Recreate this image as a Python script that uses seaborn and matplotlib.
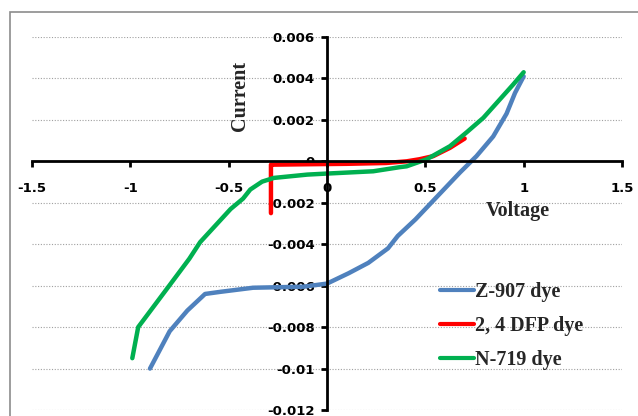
import matplotlib
matplotlib.use("Agg")
import matplotlib.pyplot as plt
import seaborn as sns
import pandas as pd
from matplotlib.patches import Rectangle

# ---- data ----
z907_v = [-0.90, -0.85, -0.80, -0.71, -0.62, -0.544, -0.376, -0.12, 0.0, 0.066, 0.11, 0.21,
          0.31, 0.36, 0.45, 0.50, 0.55, 0.58, 0.676, 0.76, 0.845, 0.913, 0.956, 1.0]
z907_i = [-0.0100, -0.0091, -0.0082, -0.0072, -0.0064, -0.0063, -0.0061, -0.00605, -0.0059,
          -0.0056, -0.0054, -0.0049, -0.0042, -0.0036, -0.0028, -0.0023, -0.0018, -0.0015,
          -0.00054, 0.00025, 0.0012, 0.0023, 0.0033, 0.0041]

dfp_v = [-0.285, -0.285, -0.27, -0.10, 0.10, 0.30, 0.405, 0.47, 0.54, 0.625, 0.70]
dfp_i = [-0.0025, -0.00016, -0.00016, -0.00014, -0.00012, -0.00008, 0.0, 0.0001, 0.00025,
         0.00065, 0.0011]

n719_v = [-0.99, -0.96, -0.81, -0.70, -0.645, -0.49, -0.427, -0.39, -0.33, -0.27, -0.10, 0.0,
          0.235, 0.371, 0.405, 0.507, 0.625, 0.71, 0.795, 0.88, 0.946, 1.0]
n719_i = [-0.0095, -0.0080, -0.0061, -0.0047, -0.0039, -0.0023, -0.0018, -0.00136, -0.00098,
          -0.0008, -0.00064, -0.00059, -0.00048, -0.00028, -0.00024, 0.0001, 0.00073, 0.0014,
          0.0021, 0.0030, 0.0037, 0.0043]

labels = ["Z-907 dye", "2, 4 DFP dye", "N-719 dye"]
colors = ["#4F81BD", "#FF0000", "#00B050"]

x_ticks = [-1.5, -1, -0.5, 0, 0.5, 1, 1.5]
x_tick_labels = ["-1.5", "-1", "-0.5", "0", "0.5", "1", "1.5"]
y_ticks = [-0.012, -0.01, -0.008, -0.006, -0.004, -0.002, 0, 0.002, 0.004, 0.006]
y_tick_labels = ["-0.012", "-0.01", "-0.008", "-0.006", "-0.004", "-0.002", "0",
                 "0.002", "0.004", "0.006"]

frames = []
for lab, v, i in zip(labels, [z907_v, dfp_v, n719_v], [z907_i, dfp_i, n719_i]):
    frames.append(pd.DataFrame({"Voltage": v, "Current": i, "dye": lab}))
df = pd.concat(frames, ignore_index=True)

sns.set_theme(style="white")
plt.rcParams["font.family"] = ["DejaVu Sans"]
plt.rcParams["font.weight"] = "bold"

fig = plt.figure(figsize=(6.38, 4.16), dpi=100)
ax = fig.add_axes([32 / 638, 6 / 416, 590 / 638, 373 / 416])

# outer chart border
fig.patches.append(Rectangle((9.5 / 638, -0.05), 1.2, (416 - 12) / 416 + 0.05,
                             transform=fig.transFigure, fill=False,
                             edgecolor="#8c8c8c", linewidth=1.2, zorder=0))

for y in y_ticks:
    ax.axhline(y, color="#a0a0a0", linestyle=(0, (1, 1.5)), linewidth=0.8, zorder=0)

sns.lineplot(data=df, x="Voltage", y="Current", hue="dye", hue_order=labels,
             palette=colors, sort=False, estimator=None, units="dye", linewidth=3.2,
             ax=ax, legend=True)

for s in ["top", "right"]:
    ax.spines[s].set_visible(False)
ax.spines["left"].set_position(("data", 0))
ax.spines["bottom"].set_position(("data", 0))
for s in ["left", "bottom"]:
    ax.spines[s].set_color("black")
    ax.spines[s].set_linewidth(2.0)

ax.set_xlim(-1.5, 1.5)
ax.set_ylim(-0.012, 0.006)
ax.set_xticks(x_ticks)
ax.set_xticklabels(x_tick_labels, fontsize=9.5, fontweight="bold")
ax.set_yticks(y_ticks)
ax.set_yticklabels(y_tick_labels, fontsize=9.5, fontweight="bold")

ax.tick_params(axis="both", direction="out", length=4, width=2, color="black",
               bottom=True, left=True, labelcolor="black", labelsize=9.5)
ax.tick_params(axis="x", pad=11)
ax.tick_params(axis="y", pad=5)
for t in ax.get_xticklabels() + ax.get_yticklabels():
    t.set_fontweight("bold")
ax.set_facecolor("white")

ax.set_xlabel("Voltage", fontsize=14.5, fontweight="bold", family="Liberation Serif")
ax.set_ylabel("Current", fontsize=14.5, fontweight="bold", family="Liberation Serif")
ax.xaxis.set_label_coords((518 - 32) / 590, (410 - 201) / 373)
ax.yaxis.set_label_coords((250 - 32) / 590, (410 - 96) / 373)

leg = ax.legend(loc="upper left", bbox_to_anchor=((440 - 32) / 590, (410 - 282) / 373),
                frameon=False,
                prop={"family": "Liberation Serif", "weight": "bold", "size": 14.5},
                handlelength=1.7, handletextpad=0.05, labelspacing=0.7, borderpad=0,
                borderaxespad=0)
for line in leg.get_lines():
    line.set_linewidth(3)

fig.savefig("out.png", dpi=100, facecolor="white")
